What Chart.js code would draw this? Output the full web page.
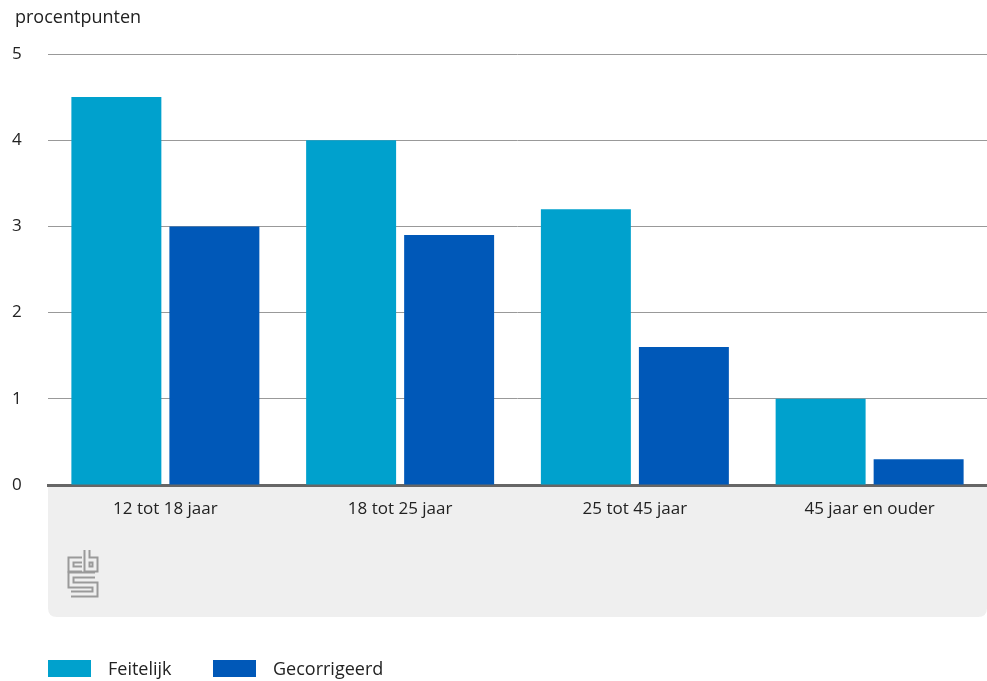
<!DOCTYPE html>
<html>
<head>
<meta charset="utf-8">
<script src="https://cdn.jsdelivr.net/npm/chart.js@4.4.1/dist/chart.umd.min.js"></script>
<style>
  html, body { margin: 0; padding: 0; background: #fff; }
  #wrap { position: relative; width: 987px; height: 681px; font-family: "Open Sans", sans-serif; }
  #c { position: absolute; left: 0; top: 0; }
  #legend { position: absolute; left: 48px; top: 656px; display: flex; align-items: center; font-size: 18px; color: #222; }
  .item { display: flex; align-items: center; }
  .item:first-child { width: 165px; }
  .box { width: 43px; height: 17px; margin-right: 17px; }
</style>
</head>
<body>
<div id="wrap">
  <canvas id="c" width="987" height="681"></canvas>
  <div id="legend"></div>
</div>
<script>
const categories = ["12 tot 18 jaar", "18 tot 25 jaar", "25 tot 45 jaar", "45 jaar en ouder"];
const feitelijk = [4.5, 4.0, 3.2, 1.0];
const gecorrigeerd = [3.0, 2.9, 1.6, 0.3];
const seriesNames = ["Feitelijk", "Gecorrigeerd"];
const seriesColors = ["#00A1CD", "#0058B8"];
const yTicks = [0, 1, 2, 3, 4, 5];
const yTitle = "procentpunten";

const FONT = '"Open Sans", sans-serif';

const panelPlugin = {
  id: 'panel',
  beforeDraw(chart) {
    const ctx = chart.ctx, a = chart.chartArea;
    const x0 = a.left, x1 = a.right, y0 = a.bottom, y1 = 617, r = 9;
    ctx.save();
    ctx.fillStyle = '#EFEFEF';
    ctx.beginPath();
    ctx.moveTo(x0, y0);
    ctx.lineTo(x1, y0);
    ctx.lineTo(x1, y1 - r);
    ctx.quadraticCurveTo(x1, y1, x1 - r, y1);
    ctx.lineTo(x0 + r, y1);
    ctx.quadraticCurveTo(x0, y1, x0, y1 - r);
    ctx.closePath();
    ctx.fill();
    // cbs logo (outlined strokes)
    const paths = [
      [[82,560],[71,560],[71,569],[82,569]],
      [[87,550],[87,569],[95,569],[95,560],[87,560]],
      [[95,575],[71,575],[71,585],[95,585],[95,594],[71,594]]
    ];
    ctx.lineJoin = 'miter';
    ctx.lineCap = 'butt';
    [[7,'#9a9a9a'],[3,'#EFEFEF']].forEach(([w,c]) => {
      ctx.lineWidth = w; ctx.strokeStyle = c;
      paths.forEach(p => {
        ctx.beginPath();
        ctx.moveTo(p[0][0], p[0][1]);
        for (let i = 1; i < p.length; i++) ctx.lineTo(p[i][0], p[i][1]);
        ctx.stroke();
      });
    });
    // axis title
    ctx.fillStyle = '#222';
    ctx.font = '18px ' + FONT;
    ctx.textAlign = 'left';
    ctx.textBaseline = 'alphabetic';
    ctx.fillText(yTitle, 15, 23);
    ctx.restore();
  }
};

new Chart(document.getElementById('c'), {
  type: 'bar',
  data: {
    labels: categories,
    datasets: [
      { label: seriesNames[0], data: feitelijk, backgroundColor: seriesColors[0] },
      { label: seriesNames[1], data: gecorrigeerd, backgroundColor: seriesColors[1] }
    ]
  },
  options: {
    responsive: false,
    animation: false,
    layout: { padding: { left: 12, right: 0, top: 54, bottom: 0 } },
    plugins: { legend: { display: false }, tooltip: { enabled: false }, title: { display: false } },
    datasets: { bar: { categoryPercentage: 0.835, barPercentage: 0.918 } },
    scales: {
      x: {
        grid: { display: false, drawTicks: false },
        border: { display: true, color: '#666', width: 3 },
        ticks: { color: '#222', font: { family: FONT, size: 17 }, padding: 14, maxRotation: 0 },
        afterFit(s) { s.height = 196; }
      },
      y: {
        min: 0, max: 5,
        afterBuildTicks(s) { s.ticks = yTicks.map(v => ({ value: v })); },
        grid: { color: '#999', lineWidth: 1, drawTicks: false },
        border: { display: false },
        ticks: { color: '#222', font: { family: FONT, size: 17 }, crossAlign: 'far', padding: 0 },
        afterFit(s) { s.width = 36; }
      }
    }
  },
  plugins: [panelPlugin]
});

const lg = document.getElementById('legend');
seriesNames.forEach((n, i) => {
  const it = document.createElement('div'); it.className = 'item';
  const b = document.createElement('div'); b.className = 'box'; b.style.background = seriesColors[i];
  const t = document.createElement('span'); t.textContent = n;
  it.appendChild(b); it.appendChild(t); lg.appendChild(it);
});
</script>
</body>
</html>
